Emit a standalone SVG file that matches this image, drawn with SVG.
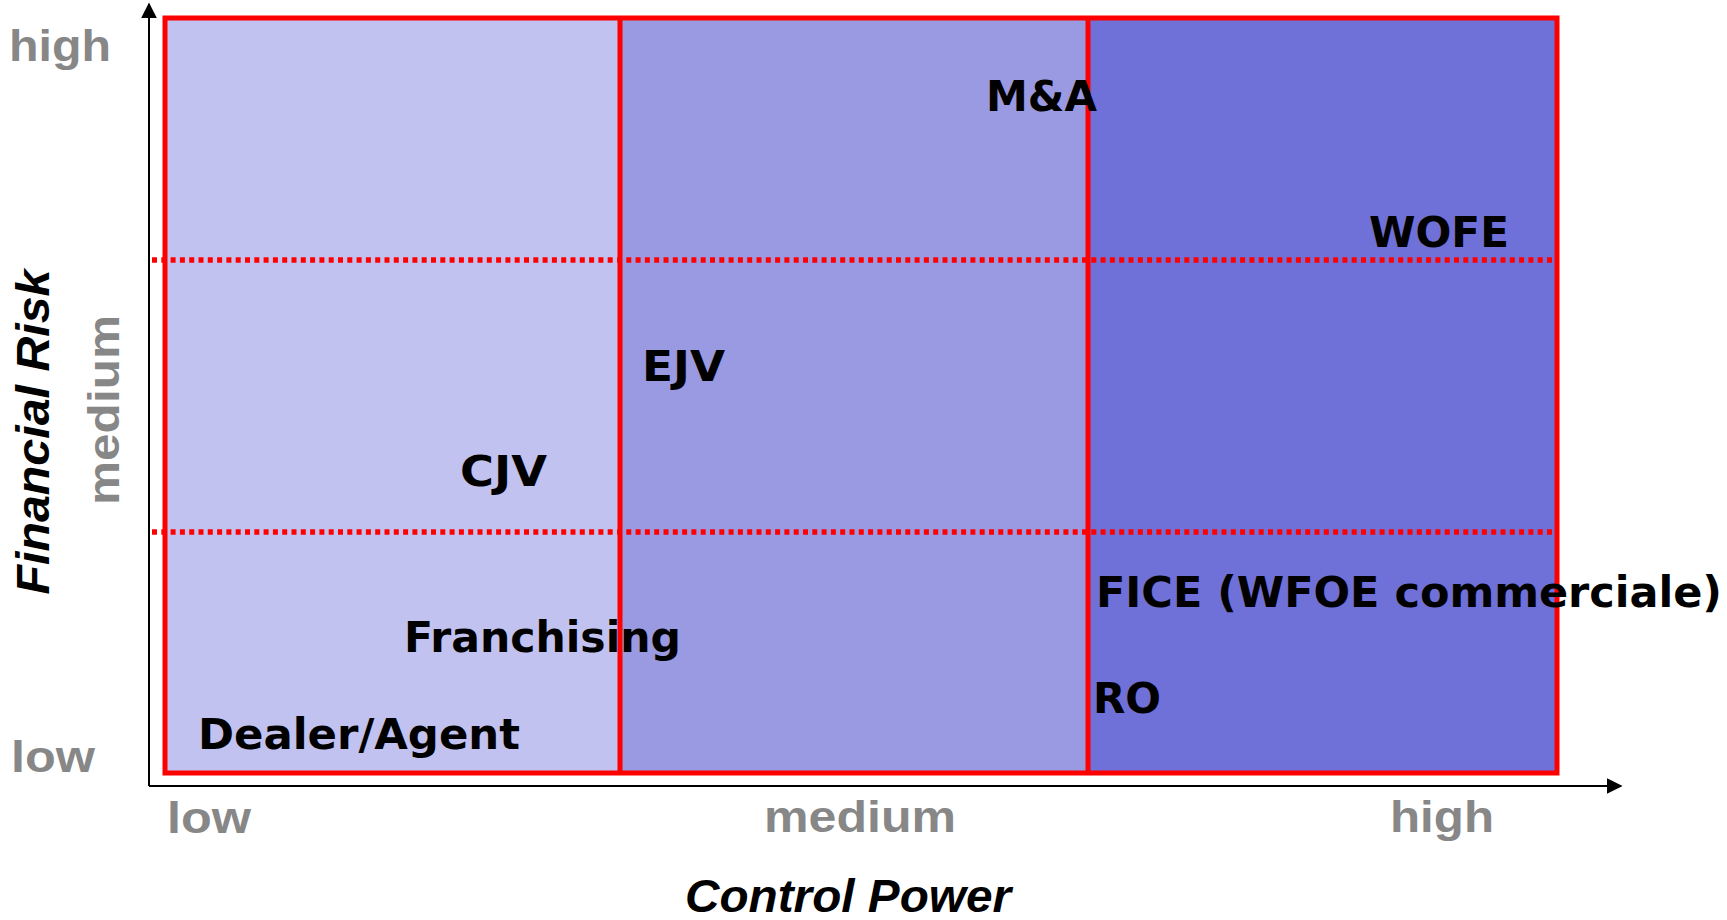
<svg xmlns="http://www.w3.org/2000/svg" width="1727" height="920" viewBox="0 0 1727 920">
  <style>
    .lbl { font-family: "DejaVu Sans", "Noto Sans", sans-serif; font-weight: bold; font-size: 42px; fill: #000; }
    .axl { font-family: "Liberation Sans", Arial, sans-serif; font-weight: bold; font-size: 45px; fill: #878787; }
    .ttl { font-family: "Liberation Sans", Arial, sans-serif; font-weight: bold; font-style: italic; font-size: 46px; fill: #000; }
    .red { stroke: #FF0000; stroke-width: 5; fill: none; }
    .dot { stroke: #FF0000; stroke-width: 5.5; stroke-dasharray: 5 4.3; fill: none; }
    .axis { stroke: #000; stroke-width: 2; fill: none; }
  </style>
  <defs>
    <marker id="arrb" viewBox="0 0 10 10" refX="9" refY="5" markerWidth="16" markerHeight="16" markerUnits="userSpaceOnUse" orient="auto">
      <path d="M0,0 L10,5 L0,10 z" fill="#000"/>
    </marker>
  </defs>

  <g id="background">
    <rect x="165" y="18" width="455" height="755" fill="#C1C2EF"/>
    <rect x="620" y="18" width="468" height="755" fill="#9A9AE3"/>
    <rect x="1088" y="18" width="469" height="755" fill="#6F70D8"/>
  </g>

  <g id="grid">
    <line class="dot" x1="152" y1="260" x2="1555" y2="260"/>
    <line class="dot" x1="152" y1="532" x2="1555" y2="532"/>
    <rect class="red" x="165" y="18" width="1392" height="755"/>
    <line class="red" x1="620" y1="18" x2="620" y2="773"/>
    <line class="red" x1="1088" y1="18" x2="1088" y2="773"/>
  </g>

  <g id="connectors">
    <line class="axis" x1="149" y1="786" x2="149" y2="4" marker-end="url(#arrb)"/>
    <line class="axis" x1="149" y1="786" x2="1621" y2="786" marker-end="url(#arrb)"/>
  </g>

  <g id="axis-labels">
    <text class="axl" x="9" y="61" textLength="102" lengthAdjust="spacingAndGlyphs">high</text>
    <text class="axl" transform="translate(119,410) rotate(-90)" text-anchor="middle" textLength="190" lengthAdjust="spacingAndGlyphs">medium</text>
    <text class="axl" x="11" y="772" textLength="84" lengthAdjust="spacingAndGlyphs">low</text>
    <text class="axl" x="167" y="833" textLength="84" lengthAdjust="spacingAndGlyphs">low</text>
    <text class="axl" x="764" y="832" textLength="192" lengthAdjust="spacingAndGlyphs">medium</text>
    <text class="axl" x="1390" y="832" textLength="104" lengthAdjust="spacingAndGlyphs">high</text>
    <text class="ttl" transform="translate(49,432) rotate(-90)" text-anchor="middle" textLength="325" lengthAdjust="spacingAndGlyphs">Financial Risk</text>
    <text class="ttl" x="848" y="912" text-anchor="middle" textLength="326" lengthAdjust="spacingAndGlyphs">Control Power</text>
  </g>

  <g id="node-ma"><text class="lbl" x="986" y="111">M&amp;A</text></g>
  <g id="node-wofe"><text class="lbl" x="1369" y="247" textLength="140" lengthAdjust="spacingAndGlyphs">WOFE</text></g>
  <g id="node-ejv"><text class="lbl" x="642" y="381" textLength="83" lengthAdjust="spacingAndGlyphs">EJV</text></g>
  <g id="node-cjv"><text class="lbl" x="460" y="486" textLength="87" lengthAdjust="spacingAndGlyphs">CJV</text></g>
  <g id="node-franchising"><text class="lbl" x="404" y="652" textLength="277" lengthAdjust="spacingAndGlyphs">Franchising</text></g>
  <g id="node-dealer"><text class="lbl" x="198" y="749" textLength="322" lengthAdjust="spacingAndGlyphs">Dealer/Agent</text></g>
  <g id="node-fice"><text class="lbl" x="1096" y="607" textLength="626" lengthAdjust="spacingAndGlyphs">FICE (WFOE commerciale)</text></g>
  <g id="node-ro"><text class="lbl" x="1093" y="713">RO</text></g>
</svg>
